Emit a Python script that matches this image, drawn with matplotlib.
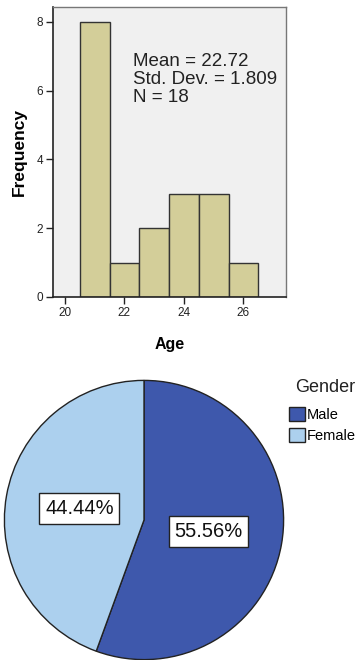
import matplotlib.pyplot as plt
from matplotlib.patches import Patch

plt.rcParams['font.family'] = ['Liberation Sans', 'DejaVu Sans']

# histogram data (age bins, frequency)
ages = [21, 22, 23, 24, 25, 26]
counts = [8, 1, 2, 3, 3, 1]
x_ticks = [20, 22, 24, 26]
y_ticks = [0, 2, 4, 6, 8]
stats_text = "Mean = 22.72\nStd. Dev. = 1.809\nN = 18"

# pie data
genders = ["Male", "Female"]
shares = [55.56, 44.44]
pie_colors = ["#3E58AC", "#ACD0EE"]

W, H = 358, 660
fig = plt.figure(figsize=(W / 100, H / 100), dpi=100)

# --- histogram ---
ax = fig.add_axes([53 / W, (H - 297) / H, (286 - 53) / W, (297 - 7) / H])
ax.set_facecolor("#F0F0F0")
ax.bar(ages, counts, width=1.0, color="#D3CE99", edgecolor="#333333", linewidth=1.0)
ax.set_xlim(19.6, 27.43)
ax.set_ylim(0, 8.43)
ax.set_xticks(x_ticks)
ax.set_yticks(y_ticks)
ax.tick_params(labelsize=8.5, length=5, width=1, colors="#222222", pad=2)
for side in ["left", "bottom"]:
    ax.spines[side].set_color("#222222")
    ax.spines[side].set_linewidth(1.2)
for side in ["top", "right"]:
    ax.spines[side].set_color("#777777")
    ax.spines[side].set_linewidth(1.0)
ax.set_xlabel("Age", fontsize=11.5, fontweight="bold", labelpad=13)
ax.set_ylabel("Frequency", fontsize=12.5, fontweight="bold", labelpad=7)
ax.text(0.343, 0.84, stats_text, transform=ax.transAxes, fontsize=13.5,
        va="top", ha="left", linespacing=1.05, color="#222222")

# --- pie ---
pax = fig.add_axes([3 / W, (H - 661) / H, 282 / W, 282 / H])
wedges, texts, autotexts = pax.pie(
    shares, colors=pie_colors, startangle=90, counterclock=False,
    autopct="%.2f%%", pctdistance=0.47,
    wedgeprops=dict(edgecolor="#222222", linewidth=1.0),
    textprops=dict(fontsize=14.5, color="#111111"))
for t in autotexts:
    t.set_bbox(dict(facecolor="white", edgecolor="#222222", linewidth=1.0, pad=4))
pax.set_xlim(-1.01, 1.01)
pax.set_ylim(-1.01, 1.01)
pax.set_aspect("equal")

fig.text(295 / W, (H - 387) / H, "Gender", fontsize=13, va="center", ha="left",
         color="#222222")
handles = [Patch(facecolor=c, edgecolor="#222222", linewidth=1.0) for c in pie_colors]
leg = fig.legend(handles, genders, loc="upper left",
                 bbox_to_anchor=(289 / W, (H - 407) / H), frameon=False,
                 fontsize=10.5, handlelength=1.1, handleheight=1.1,
                 handletextpad=0.15, labelspacing=0.4,
                 borderpad=0, borderaxespad=0)

fig.savefig("out.png", dpi=100)
